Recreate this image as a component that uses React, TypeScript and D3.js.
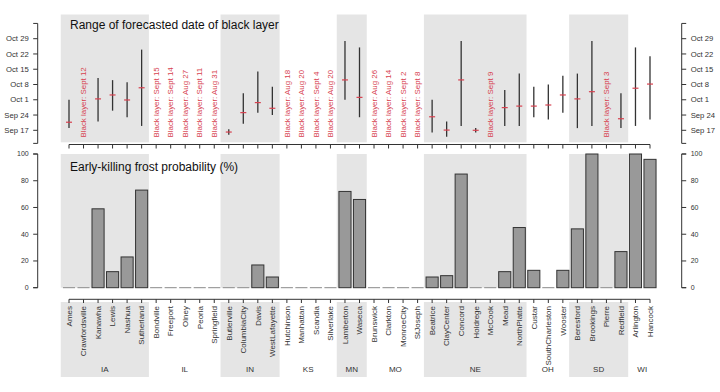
import { scaleLinear, scalePoint } from "d3";

const WIDTH = 720;
const HEIGHT = 392;
const FONT = "'Liberation Sans', Arial, sans-serif";
const RED = "#d7414f";
const SHADE = "#e5e5e5";

const sites = [
  "Ames", "Crawfordsville", "Kanawha", "Lewis", "Nashua", "Sutherland",
  "Bondville", "Freeport", "Olney", "Peoria", "Springfield",
  "Butlerville", "ColumbiaCity", "Davis", "WestLafayette",
  "Hutchinson", "Manhattan", "Scandia", "Silverlake",
  "Lamberton", "Waseca",
  "Brunswick", "Clarkton", "MonroeCity", "StJoseph",
  "Beatrice", "ClayCenter", "Concord", "Holdrege", "McCook", "Mead", "NorthPlatte",
  "Custar", "SouthCharleston", "Wooster",
  "Beresford", "Brookings", "Pierre", "Redfield",
  "Arlington", "Hancock",
];

const states = ["IA", "IL", "IN", "KS", "MN", "MO", "NE", "OH", "SD", "WI"];
const stateCounts = [6, 5, 4, 4, 2, 4, 7, 3, 4, 2];
const stateShaded = [true, false, true, false, true, false, true, false, true, false];

// days after Sep 17 (null = black layer already reached)
const blackLo = [
  1, null, 4, 9, 6, 2,
  null, null, null, null, null,
  -2, 3, 8, 7,
  null, null, null, null,
  14, 6,
  null, null, null, null,
  -1, -3, 2, -1, null, 2, 2,
  6, 5, 8,
  1, 2, null, 1,
  2, 5,
];
const blackHi = [
  14, null, 24, 23, 22, 37,
  null, null, null, null, null,
  0.5, 17, 27, 20,
  null, null, null, null,
  41, 38,
  null, null, null, null,
  14, 4, 41, 1, null, 18.5, 26,
  20, 21, 25,
  26, 41, null, 17,
  38, 34,
];
const blackMed = [
  3.7, null, 14.4, 16.2, 13.9, 19.5,
  null, null, null, null, null,
  -0.8, 8.1, 12.7, 10.1,
  null, null, null, null,
  23.1, 15.1,
  null, null, null, null,
  6.2, 0.1, 23.1, 0, null, 10.4, 11.1,
  11.1, 11.6, 16.2,
  14.4, 17.7, null, 5.3,
  19.3, 21.2,
];
const blackReached = [
  null, "Sept 12", null, null, null, null,
  "Sept 15", "Sept 14", "Aug 27", "Sept 11", "Aug 31",
  null, null, null, null,
  "Aug 18", "Aug 20", "Sept 4", "Aug 20",
  null, null,
  "Aug 26", "Aug 14", "Sept 2", "Sept 8",
  null, null, null, null, "Sept 9", null, null,
  null, null, null,
  null, null, "Sept 3", null,
  null, null,
];

const frost = [
  0, 0, 59, 12, 23, 73,
  0, 0, 0, 0, 0,
  0, 0, 17, 8,
  0, 0, 0, 0,
  72, 66,
  0, 0, 0, 0,
  8, 9, 85, 0, 0, 12, 45,
  13, 0, 13,
  44, 100, 0, 27,
  100, 96,
];

const dateTicks = [0, 7, 14, 21, 28, 35, 42];
const dateTickLabels = ["Sep 17", "Sep 24", "Oct 1", "Oct 8", "Oct 15", "Oct 22", "Oct 29"];
const frostTicks = [0, 20, 40, 60, 80, 100];

export default function App() {
  const x = scalePoint<string>().domain(sites).range([69, 650]);
  const unit = x.step() / 1.2;
  const barW = unit;

  const yTop = scaleLinear().domain([0, 42]).range([130.3, 38.7]);
  const yBot = scaleLinear().domain([0, 100]).range([287.7, 154]);

  const topPanel = { y0: 14.5, y1: 142.3 };
  const labelPanel = { y0: 302, y1: 377 };

  let start = 0;
  const groups = states.map((s, i) => {
    const first = sites[start];
    const last = sites[start + stateCounts[i] - 1];
    start += stateCounts[i];
    return {
      name: s,
      shaded: stateShaded[i],
      x0: (x(first) ?? 0) - 0.68 * unit,
      x1: (x(last) ?? 0) + 0.6 * unit,
    };
  });

  const leftX = 37.7;
  const rightX = 681.7;

  const yAxis = (
    ax: number,
    side: number,
    ticks: number[],
    labels: string[],
    scale: (v: number) => number,
    lo: number,
    hi: number,
    fs: number,
  ) => (
    <g>
      <line x1={ax} x2={ax} y1={scale(lo)} y2={scale(hi)} stroke="#333" />
      {[lo, ...ticks, hi].map((t, k) => (
        <line key={k} x1={ax} x2={ax + side * 4.5} y1={scale(t)} y2={scale(t)} stroke="#333" />
      ))}
      {ticks.map((t, k) => (
        <text
          key={k}
          x={ax + side * 9}
          y={scale(t)}
          dy="0.35em"
          fontSize={fs}
          textAnchor={side < 0 ? "end" : "start"}
          fill="#333"
        >
          {labels[k]}
        </text>
      ))}
    </g>
  );

  return (
    <svg
      width={WIDTH}
      height={HEIGHT}
      viewBox={`0 0 ${WIDTH} ${HEIGHT}`}
      style={{ position: "absolute", left: 0, top: 0, background: "#fff" }}
      fontFamily={FONT}
    >
      {/* shading */}
      {groups
        .filter((g) => g.shaded)
        .map((g) => (
          <g key={g.name}>
            <rect x={g.x0} y={topPanel.y0} width={g.x1 - g.x0} height={topPanel.y1 - topPanel.y0} fill={SHADE} />
            <rect x={g.x0} y={yBot(100)} width={g.x1 - g.x0} height={yBot(0) - yBot(100)} fill={SHADE} />
            <rect x={g.x0} y={labelPanel.y0} width={g.x1 - g.x0} height={labelPanel.y1 - labelPanel.y0} fill={SHADE} />
          </g>
        ))}

      {/* top panel */}
      <text x={70} y={29} fontSize={12} fill="#111">
        Range of forecasted date of black layer
      </text>
      {sites.map((s, i) => {
        const cx = x(s) ?? 0;
        const label = blackReached[i];
        if (label) {
          return (
            <text
              key={s}
              transform={`translate(${cx},${137.5}) rotate(-90)`}
              dy="0.35em"
              fontSize={7.9}
              fill={RED}
            >
              {`Black layer: ${label}`}
            </text>
          );
        }
        const lo = blackLo[i] as number;
        const hi = blackHi[i] as number;
        const med = blackMed[i] as number;
        return (
          <g key={s}>
            <line x1={cx} x2={cx} y1={yTop(lo)} y2={yTop(hi)} stroke="#333" strokeWidth={1.3} />
            <line x1={cx - 3} x2={cx + 3} y1={yTop(med)} y2={yTop(med)} stroke={RED} strokeWidth={1.2} />
          </g>
        );
      })}
      <line x1={x(sites[0])} x2={x(sites[sites.length - 1])} y1={144.5} y2={144.5} stroke="#333" />
      {sites.map((s) => (
        <line key={s} x1={x(s)} x2={x(s)} y1={144.5} y2={148.5} stroke="#333" />
      ))}
      {yAxis(leftX, -1, dateTicks, dateTickLabels, yTop, -6, 49, 7.7)}
      {yAxis(rightX, 1, dateTicks, dateTickLabels, yTop, -6, 49, 7.7)}

      {/* bottom panel */}
      <text x={70} y={171} fontSize={12} fill="#111">
        Early-killing frost probability (%)
      </text>
      {sites.map((s, i) => {
        const cx = x(s) ?? 0;
        if (frost[i] === 0) {
          return (
            <line key={s} x1={cx - barW / 2} x2={cx + barW / 2} y1={yBot(0)} y2={yBot(0)} stroke="#8a8a8a" />
          );
        }
        return (
          <rect
            key={s}
            x={cx - barW / 2}
            y={yBot(frost[i])}
            width={barW}
            height={yBot(0) - yBot(frost[i])}
            fill="#999"
            stroke="#333"
            strokeWidth={1}
          />
        );
      })}
      {yAxis(leftX, -1, frostTicks, frostTicks.map(String), yBot, 0, 100, 7)}
      {yAxis(rightX, 1, frostTicks, frostTicks.map(String), yBot, 0, 100, 7)}

      {/* site axis */}
      <line x1={x(sites[0])} x2={x(sites[sites.length - 1])} y1={299.3} y2={299.3} stroke="#333" />
      {sites.map((s) => (
        <g key={s}>
          <line x1={x(s)} x2={x(s)} y1={299.3} y2={303} stroke="#333" />
          <text
            transform={`translate(${x(s)},${306}) rotate(-90)`}
            dy="0.35em"
            textAnchor="end"
            fontSize={8}
            fill="#333"
          >
            {s}
          </text>
        </g>
      ))}
      {groups.map((g) => (
        <text key={g.name} x={(g.x0 + g.x1) / 2} y={369.5} dy="0.35em" textAnchor="middle" fontSize={8} fill="#333">
          {g.name}
        </text>
      ))}
    </svg>
  );
}
